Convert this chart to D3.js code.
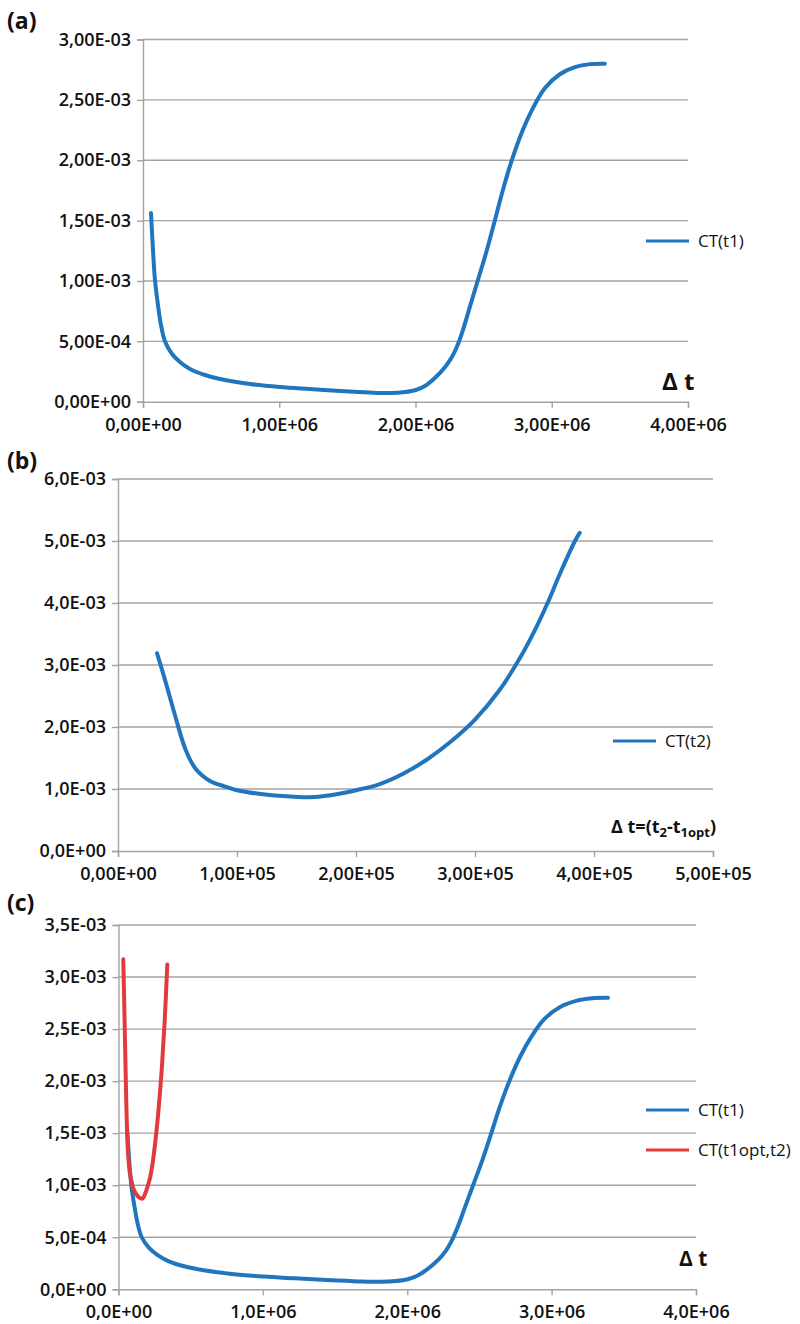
<!DOCTYPE html>
<html>
<head>
<meta charset="utf-8">
<script src="https://cdn.jsdelivr.net/npm/d3@7"></script>
<style>
  html, body { margin: 0; padding: 0; background: #fff; }
  svg text { font-family: "Open Sans", "DejaVu Sans", sans-serif; fill: #111; }
</style>
</head>
<body>
<svg id="chart" width="800" height="1324"></svg>
<script>
// CT(t1) against Δt (panels a and c)
const ct1X = [0.0587e6, 0.0734e6, 0.088e6, 0.110e6, 0.132e6, 0.161e6, 0.213e6, 0.271e6, 0.345e6, 0.455e6, 0.602e6, 0.785e6, 1.005e6, 1.225e6, 1.445e6, 1.665e6, 1.812e6, 1.922e6, 2.003e6, 2.069e6, 2.142e6, 2.216e6, 2.267e6, 2.304e6, 2.35e6, 2.40e6, 2.458e6, 2.524e6, 2.583e6, 2.641e6, 2.707e6, 2.781e6, 2.861e6, 2.949e6, 3.059e6, 3.170e6, 3.280e6, 3.390e6];
const ct1Y = [1.562e-3, 1.256e-3, 1.007e-3, 0.80e-3, 0.635e-3, 0.50e-3, 0.395e-3, 0.329e-3, 0.271e-3, 0.221e-3, 0.180e-3, 0.147e-3, 0.122e-3, 0.105e-3, 0.089e-3, 0.076e-3, 0.072e-3, 0.080e-3, 0.097e-3, 0.130e-3, 0.196e-3, 0.285e-3, 0.37e-3, 0.455e-3, 0.60e-3, 0.79e-3, 1.007e-3, 1.256e-3, 1.504e-3, 1.752e-3, 2.0e-3, 2.232e-3, 2.43e-3, 2.596e-3, 2.712e-3, 2.771e-3, 2.796e-3, 2.80e-3];

// CT(t2) against Δt = t2 - t1opt (panel b)
const ct2X = [0.328e5, 0.395e5, 0.479e5, 0.563e5, 0.647e5, 0.773e5, 0.90e5, 1.0e5, 1.2e5, 1.45e5, 1.65e5, 1.85e5, 2.0e5, 2.2e5, 2.4e5, 2.6e5, 2.8e5, 3.0e5, 3.2e5, 3.38e5, 3.5e5, 3.61e5, 3.72e5, 3.84e5, 3.88e5];
const ct2Y = [3.19e-3, 2.76e-3, 2.19e-3, 1.66e-3, 1.34e-3, 1.13e-3, 1.04e-3, 0.98e-3, 0.92e-3, 0.88e-3, 0.87e-3, 0.92e-3, 0.98e-3, 1.08e-3, 1.25e-3, 1.48e-3, 1.77e-3, 2.12e-3, 2.58e-3, 3.12e-3, 3.55e-3, 4.0e-3, 4.5e-3, 5.0e-3, 5.13e-3];

// CT(t1opt,t2) on the Δt scale of panel c
const ct12X = [0.33e5, 0.395e5, 0.479e5, 0.563e5, 0.647e5, 0.773e5, 0.90e5, 1.0e5, 1.2e5, 1.45e5, 1.65e5, 1.85e5, 2.0e5, 2.2e5, 2.4e5, 2.6e5, 2.8e5, 3.0e5, 3.2e5, 3.38e5];
const ct12Y = [3.17e-3, 2.76e-3, 2.19e-3, 1.66e-3, 1.34e-3, 1.13e-3, 1.04e-3, 0.98e-3, 0.92e-3, 0.88e-3, 0.87e-3, 0.92e-3, 0.98e-3, 1.08e-3, 1.25e-3, 1.48e-3, 1.77e-3, 2.12e-3, 2.58e-3, 3.12e-3];

// Tick values and their labels
const aXTicks = [0, 1e6, 2e6, 3e6, 4e6];
const aXLabels = ["0,00E+00", "1,00E+06", "2,00E+06", "3,00E+06", "4,00E+06"];
const aYTicks = [0, 5e-4, 1e-3, 1.5e-3, 2e-3, 2.5e-3, 3e-3];
const aYLabels = ["0,00E+00", "5,00E-04", "1,00E-03", "1,50E-03", "2,00E-03", "2,50E-03", "3,00E-03"];

const bXTicks = [0, 1e5, 2e5, 3e5, 4e5, 5e5];
const bXLabels = ["0,00E+00", "1,00E+05", "2,00E+05", "3,00E+05", "4,00E+05", "5,00E+05"];
const bYTicks = [0, 1e-3, 2e-3, 3e-3, 4e-3, 5e-3, 6e-3];
const bYLabels = ["0,0E+00", "1,0E-03", "2,0E-03", "3,0E-03", "4,0E-03", "5,0E-03", "6,0E-03"];

const cXTicks = [0, 1e6, 2e6, 3e6, 4e6];
const cXLabels = ["0,0E+00", "1,0E+06", "2,0E+06", "3,0E+06", "4,0E+06"];
const cYTicks = [0, 5e-4, 1e-3, 1.5e-3, 2e-3, 2.5e-3, 3e-3, 3.5e-3];
const cYLabels = ["0,0E+00", "5,0E-04", "1,0E-03", "1,5E-03", "2,0E-03", "2,5E-03", "3,0E-03", "3,5E-03"];

const BLUE = "#1f75be";
const RED = "#e03a3e";
const GRID = "#a3a3a3";

const svg = d3.select("#chart");
const zip = (xs, ys) => xs.map((x, i) => ({ x, y: ys[i] }));

function panel(opt) {
  const x = d3.scaleLinear().domain(opt.xDomain).range([opt.left, opt.right]);
  const y = d3.scaleLinear().domain(opt.yDomain).range([opt.bottom, opt.top]);
  const g = svg.append("g");

  // horizontal gridlines
  g.append("g").selectAll("line").data(opt.yTicks.filter(v => v > 0)).join("line")
    .attr("x1", opt.left).attr("x2", opt.right)
    .attr("y1", d => y(d)).attr("y2", d => y(d))
    .attr("stroke", GRID).attr("stroke-width", 1.4);

  const yAxis = d3.axisLeft(y).tickValues(opt.yTicks)
    .tickFormat((d, i) => opt.yLabels[i]).tickSize(6).tickPadding(6);
  const xAxis = d3.axisBottom(x).tickValues(opt.xTicks)
    .tickFormat((d, i) => opt.xLabels[i]).tickSize(6).tickPadding(opt.xPad);

  const ya = g.append("g").attr("transform", `translate(${opt.left},0)`).call(yAxis);
  const xa = g.append("g").attr("transform", `translate(0,${opt.bottom})`).call(xAxis);
  [ya, xa].forEach(a => {
    a.select(".domain").attr("stroke", GRID).attr("stroke-width", 1.4);
    a.selectAll(".tick line").attr("stroke", GRID).attr("stroke-width", 1.4);
    a.selectAll(".tick text").attr("fill", "#111")
      .style("font-size", "18px").style("font-weight", 600)
      .style("font-family", '"Open Sans", sans-serif');
  });

  const line = d3.line().x(d => x(d.x)).y(d => y(d.y)).curve(d3.curveCatmullRom.alpha(0.5));
  opt.series.forEach(s => {
    g.append("path").datum(s.points)
      .attr("fill", "none").attr("stroke", s.color).attr("stroke-width", 4)
      .attr("stroke-linecap", "round").attr("stroke-linejoin", "round")
      .attr("d", line);
  });

  // legend
  opt.series.forEach((s, i) => {
    const ly = opt.legendY + i * 40;
    g.append("line").attr("x1", opt.legendX).attr("x2", opt.legendX + 43)
      .attr("y1", ly).attr("y2", ly).attr("stroke", s.color).attr("stroke-width", 3);
    g.append("text").attr("x", opt.legendX + 52).attr("y", ly)
      .attr("dy", "0.35em").style("font-size", "17px").text(s.name);
  });

  // panel letter
  g.append("text").attr("x", 7).attr("y", opt.letterY)
    .style("font-size", "23px").style("font-weight", 700).text(opt.letter);

  return { g, x, y };
}

// (a)
const pa = panel({
  letter: "(a)", letterY: 29,
  left: 143, right: 688, top: 39.5, bottom: 401.7, xPad: 11,
  xDomain: [0, 4e6], yDomain: [0, 3e-3],
  xTicks: aXTicks, xLabels: aXLabels, yTicks: aYTicks, yLabels: aYLabels,
  series: [{ name: "CT(t1)", color: BLUE, points: zip(ct1X, ct1Y) }],
  legendX: 646, legendY: 241
});
pa.g.append("text").attr("x", 662).attr("y", 390)
  .style("font-size", "24px").style("font-weight", 700).text("Δ t");

// (b)
const pb = panel({
  letter: "(b)", letterY: 469,
  left: 118, right: 713, top: 479, bottom: 851, xPad: 10,
  xDomain: [0, 5e5], yDomain: [0, 6e-3],
  xTicks: bXTicks, xLabels: bXLabels, yTicks: bYTicks, yLabels: bYLabels,
  series: [{ name: "CT(t2)", color: BLUE, points: zip(ct2X, ct2Y) }],
  legendX: 613, legendY: 741
});
const bt = pb.g.append("text").attr("x", 611).attr("y", 833)
  .style("font-size", "18px").style("font-weight", 700);
bt.append("tspan").text("Δ t=(t");
bt.append("tspan").attr("dy", 4).style("font-size", "13px").text("2");
bt.append("tspan").attr("dy", -4).text("-t");
bt.append("tspan").attr("dy", 4).style("font-size", "13px").text("1opt");
bt.append("tspan").attr("dy", -4).text(")");

// (c)
const pc = panel({
  letter: "(c)", letterY: 911,
  left: 118.5, right: 696, top: 925, bottom: 1289.3, xPad: 10,
  xDomain: [0, 4e6], yDomain: [0, 3.5e-3],
  xTicks: cXTicks, xLabels: cXLabels, yTicks: cYTicks, yLabels: cYLabels,
  series: [
    { name: "CT(t1)", color: BLUE, points: zip(ct1X, ct1Y) },
    { name: "CT(t1opt,t2)", color: RED, points: zip(ct12X, ct12Y) }
  ],
  legendX: 646, legendY: 1110
});
pc.g.append("text").attr("x", 679).attr("y", 1266)
  .style("font-size", "21px").style("font-weight", 700).text("Δ t");
</script>
</body>
</html>
